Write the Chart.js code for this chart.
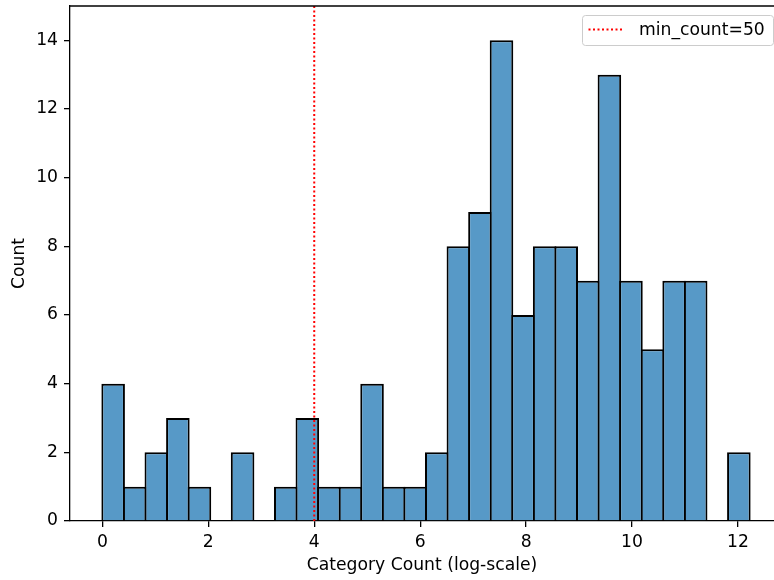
<!DOCTYPE html>
<html>
<head>
<meta charset="utf-8">
<script src="https://cdn.jsdelivr.net/npm/chart.js@4"></script>
<style>
  html, body { margin: 0; padding: 0; background: #fff; }
  #wrap { width: 774px; height: 580px; }
</style>
</head>
<body>
<div id="wrap"><canvas id="histChart" width="774" height="580"></canvas></div>
<script>
// histogram bins (log of category counts), 30 bins
const binEdges = [0, 0.407, 0.815, 1.222, 1.629, 2.037, 2.444, 2.851, 3.259, 3.666,
  4.073, 4.481, 4.888, 5.295, 5.703, 6.110, 6.517, 6.925, 7.332, 7.739,
  8.147, 8.554, 8.961, 9.369, 9.776, 10.183, 10.591, 10.998, 11.405, 11.813, 12.220];
const binCounts = [4, 1, 2, 3, 1, 0, 2, 0, 1, 3, 1, 1, 4, 1, 1, 2, 8, 9, 14, 6,
  8, 8, 7, 13, 7, 5, 7, 7, 0, 2];
const minCountLine = 4.0;
const minCountLabel = 'min_count=50';
const xTicks = [0, 2, 4, 6, 8, 10, 12];
const yTicks = [0, 2, 4, 6, 8, 10, 12, 14];

const histData = binCounts.map((c, i) => ({ x: (binEdges[i] + binEdges[i + 1]) / 2, y: c }));

Chart.defaults.font.family = 'DejaVu Sans';
Chart.defaults.font.size = 17.2;
Chart.defaults.color = '#000';

// top spine + framed legend like matplotlib
const frame = {
  id: 'frame',
  afterDraw(chart) {
    const { ctx, chartArea } = chart;
    ctx.save();
    ctx.strokeStyle = '#000';
    ctx.lineWidth = 1.3;
    ctx.beginPath();
    ctx.moveTo(chartArea.left, chartArea.top);
    ctx.lineTo(chartArea.right, chartArea.top);
    ctx.stroke();

    const line = chart.data.datasets[1];
    const bx = 582.5, by = 15.5, bw = 191, bh = 30;
    ctx.lineWidth = 1;
    ctx.fillStyle = 'rgba(255,255,255,0.8)';
    ctx.strokeStyle = '#cccccc';
    ctx.beginPath();
    ctx.roundRect(bx, by, bw, bh, 3);
    ctx.fill();
    ctx.stroke();
    ctx.strokeStyle = line.borderColor;
    ctx.lineWidth = line.borderWidth;
    ctx.setLineDash(line.borderDash);
    ctx.beginPath();
    ctx.moveTo(bx + 6, by + 14);
    ctx.lineTo(bx + 41, by + 14);
    ctx.stroke();
    ctx.setLineDash([]);
    ctx.fillStyle = '#000';
    ctx.font = '17.2px "DejaVu Sans"';
    ctx.textBaseline = 'alphabetic';
    ctx.fillText(line.label, bx + 56.5, by + 19.5);
    ctx.restore();
  }
};

new Chart(document.getElementById('histChart'), {
  data: {
    datasets: [{
      type: 'bar',
      label: 'Count',
      order: 1,
      data: histData,
      backgroundColor: '#5799c7',
      borderColor: '#000',
      borderWidth: 2,
      borderSkipped: 'start',
      barPercentage: 1.093,
      categoryPercentage: 1,
      grouped: false
    }, {
      type: 'line',
      label: minCountLabel,
      order: 0,
      data: [{ x: minCountLine, y: 0 }, { x: minCountLine, y: 15 }],
      borderColor: '#ff0000',
      borderWidth: 2,
      borderDash: [2, 2.5],
      pointRadius: 0,
      fill: false
    }]
  },
  options: {
    responsive: false,
    animation: false,
    layout: { padding: { top: 6, right: 0, left: 0, bottom: 0 } },
    plugins: { legend: { display: false }, tooltip: { enabled: false } },
    scales: {
      x: {
        type: 'linear',
        min: -0.611,
        max: 12.68,
        offset: false,
        afterFit(scale) {
          scale.height = 59;
          scale.paddingLeft = 0;
          scale.paddingRight = 0;
        },
        afterBuildTicks(scale) { scale.ticks = xTicks.map(v => ({ value: v })); },
        ticks: { padding: 5, maxRotation: 0, callback: v => String(v) },
        grid: { offset: false, drawOnChartArea: false, drawTicks: true, tickLength: 6, color: '#000', lineWidth: 1.3 },
        border: { display: true, color: '#000', width: 1.3 },
        title: { display: true, text: 'Category Count (log-scale)', padding: { top: 0, bottom: 4 } }
      },
      y: {
        min: 0,
        max: 15,
        afterFit(scale) {
          scale.width = 70;
          scale.paddingTop = 0;
          scale.paddingBottom = 0;
        },
        afterBuildTicks(scale) { scale.ticks = yTicks.map(v => ({ value: v })); },
        ticks: { padding: 6, callback: v => String(v) },
        grid: { drawOnChartArea: false, drawTicks: true, tickLength: 6, color: '#000', lineWidth: 1.3 },
        border: { display: true, color: '#000', width: 1.3 },
        title: { display: true, text: 'Count', padding: { top: 9, bottom: 0 } }
      }
    }
  },
  plugins: [frame]
});
</script>
</body>
</html>
